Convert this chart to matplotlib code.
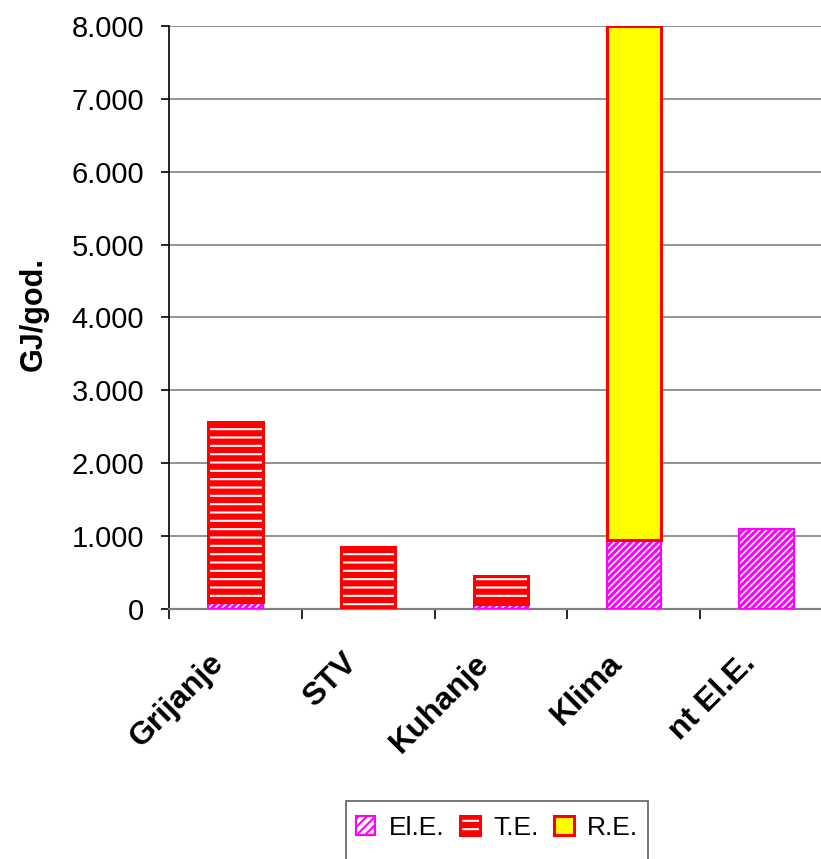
import numpy as np
import matplotlib
matplotlib.use("Agg")
import matplotlib.pyplot as plt
from matplotlib.patches import Patch, Rectangle
from matplotlib.ticker import FuncFormatter, FixedLocator
from matplotlib.transforms import ScaledTranslation

plt.rcParams['font.family'] = ['Liberation Sans', 'DejaVu Sans']
plt.rcParams['hatch.linewidth'] = 1.5

# energy use per purpose, GJ/god.
categories = ['Grijanje', 'STV', 'Kuhanje', 'Klima', 'nt El.E.']
el_e = [90, 0, 60, 940, 1090]
t_e = [2470, 850, 390, 0, 0]
r_e = [0, 0, 0, 7060, 0]
y_ticks = [0, 1000, 2000, 3000, 4000, 5000, 6000, 7000, 8000]

MAGENTA = '#ff00ff'
RED = '#ff0000'
YELLOW = '#ffff00'

fig = plt.figure(figsize=(8.21, 8.59), dpi=100)
ax = fig.add_axes([169/821, (859-608.7)/859, 664/821, (608.7-26)/859])

x = np.arange(len(categories))
w = 0.41
el_e = np.array(el_e)
t_e = np.array(t_e)
r_e = np.array(r_e)


def thick_hatch(patches, lw):
    for p in patches:
        if hasattr(p, 'set_hatch_linewidth'):
            p.set_hatch_linewidth(lw)


# El.E. - magenta diagonal stripes
el_bars = ax.bar(x, el_e, w, facecolor='white', edgecolor=MAGENTA,
                 hatch='/////', linewidth=1.5, zorder=3)
thick_hatch(el_bars, 2.2)

# T.E. - red with white horizontal stripes, red border on top
te_mask = t_e > 0
ax.bar(x[te_mask], t_e[te_mask], w, bottom=el_e[te_mask], facecolor=RED,
       edgecolor='white', hatch='--', linewidth=0, zorder=3)
ax.bar(x[te_mask], t_e[te_mask], w, bottom=el_e[te_mask], fill=False,
       edgecolor=RED, linewidth=2.2, zorder=4)

# R.E. - yellow with red border
re_mask = r_e > 0
ax.bar(x[re_mask], r_e[re_mask], w, bottom=(el_e + t_e)[re_mask],
       facecolor=YELLOW, edgecolor=RED, linewidth=2.2, zorder=3)

ax.set_xlim(-0.5, len(categories) - 0.5)
ax.set_ylim(0, 8000)

ax.set_yticks(y_ticks)
ax.yaxis.set_major_formatter(FuncFormatter(lambda v, p: f'{int(v):,}'.replace(',', '.')))
ax.tick_params(axis='y', direction='out', length=6, width=1.2, color='black',
               labelsize=21, pad=12)

ax.set_xticks(x)
ax.set_xticklabels(categories, rotation=45, ha='right', va='center',
                   rotation_mode='anchor', fontsize=23, fontweight='bold')
ax.tick_params(axis='x', which='major', length=0, pad=36)
shift = ScaledTranslation(-16/100, 0, fig.dpi_scale_trans)
for lab in ax.get_xticklabels():
    lab.set_transform(lab.get_transform() + shift)
ax.xaxis.set_minor_locator(FixedLocator(np.arange(-0.5, len(categories), 1.0)))
ax.tick_params(axis='x', which='minor', direction='out', length=7, width=1.2,
               color='black')

ax.grid(axis='y', color='#808080', linewidth=1.2, zorder=0)
ax.set_axisbelow(True)
for side in ['top', 'right']:
    ax.spines[side].set_visible(False)
ax.spines['left'].set_color('black')
ax.spines['left'].set_linewidth(1.2)
ax.spines['bottom'].set_color('#808080')
ax.spines['bottom'].set_linewidth(1.6)

fig.text(34/821, (859-314)/859, 'GJ/god.', rotation=90, ha='center',
         va='center', fontsize=22, fontweight='bold')

# legend
h_el = Patch(facecolor='white', edgecolor=MAGENTA, hatch='////', linewidth=1.5)
thick_hatch([h_el], 2.2)
h_te = (Patch(facecolor=RED, edgecolor='white', hatch='--', linewidth=0),
        Patch(fill=False, edgecolor=RED, linewidth=2.2))
h_re = Patch(facecolor=YELLOW, edgecolor=RED, linewidth=2.2)
leg = fig.legend([h_el, h_te, h_re], ['El.E.', 'T.E.', 'R.E.'],
                 loc='center', bbox_to_anchor=(497/821, (859-828)/859),
                 ncol=3, frameon=False, fontsize=19, handlelength=0.75,
                 handleheight=0.75, handletextpad=0.5, columnspacing=0.6,
                 borderpad=0.2)
fig.add_artist(Rectangle((346/821, -0.05), 302/821, (859-801)/859 + 0.05,
                         transform=fig.transFigure, fill=False,
                         edgecolor='#606060', linewidth=1.2))

fig.savefig('out.png', dpi=100)
